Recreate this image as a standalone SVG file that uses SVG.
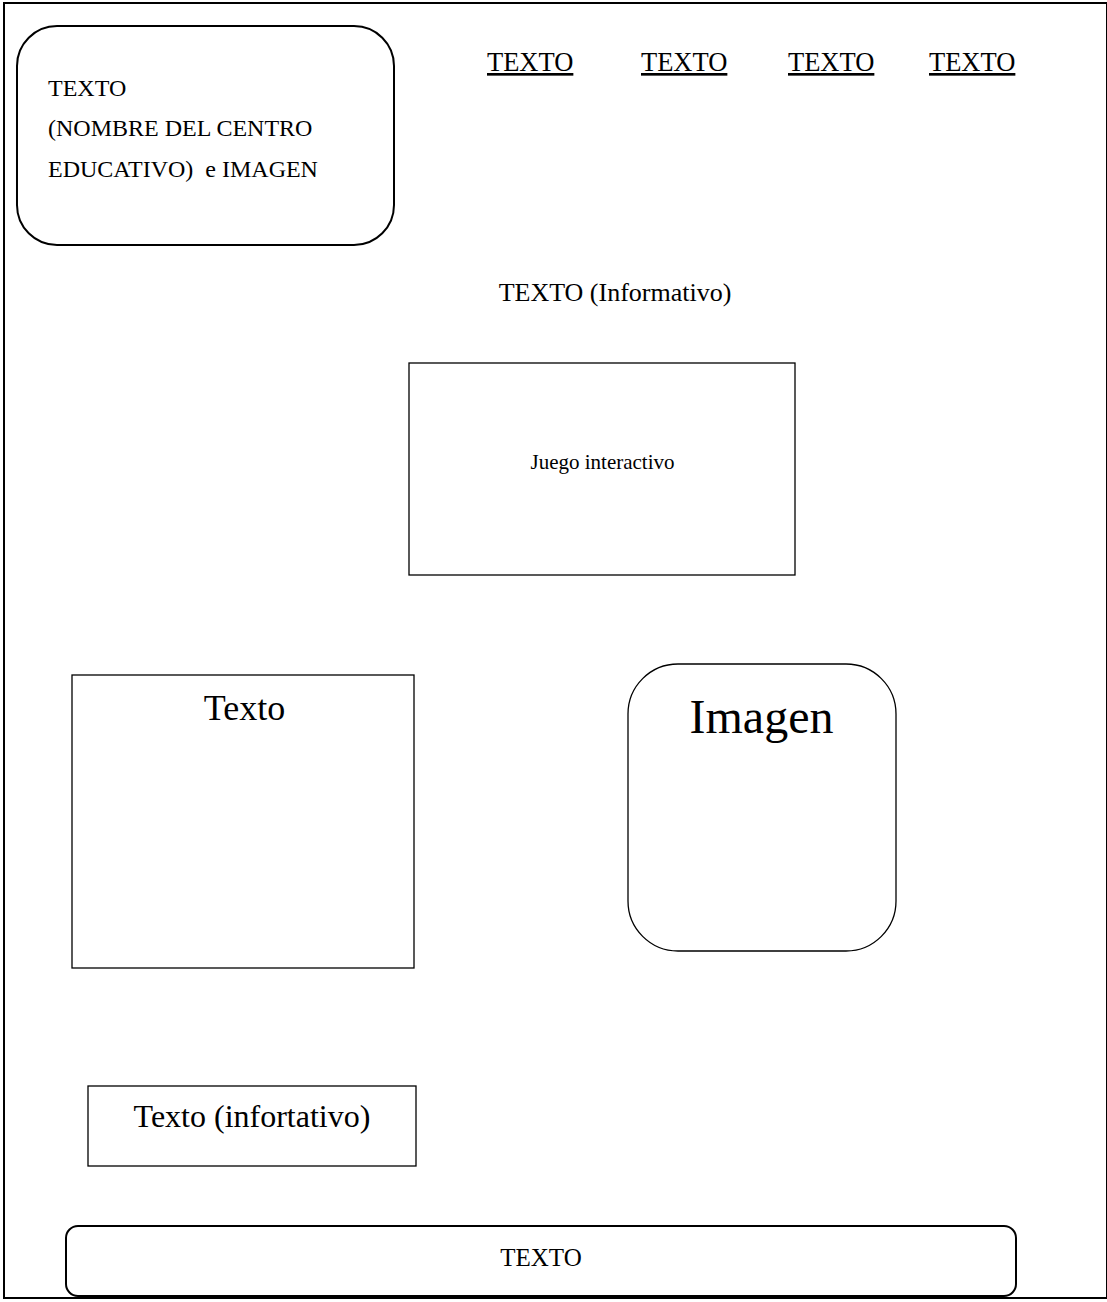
<svg xmlns="http://www.w3.org/2000/svg" width="1107" height="1302" viewBox="0 0 1107 1302">
<style>
text{font-family:"Liberation Serif","Times New Roman",serif;fill:#000}
.box{fill:#fff;stroke:#000;stroke-width:1.3}
.thick{fill:#fff;stroke:#000;stroke-width:2}
.link{text-decoration:underline;font-size:26.5px}
</style>
<rect x="0" y="0" width="1107" height="1302" fill="#fff"/>
<rect id="page" x="4" y="3" width="1103" height="1295" fill="none" stroke="#000" stroke-width="2"/>
<g id="header">
<rect class="thick" x="17" y="26" width="377" height="219" rx="40" ry="40"/>
<text x="48" y="96" font-size="24">TEXTO</text>
<text x="48" y="136" font-size="24">(NOMBRE DEL CENTRO</text>
<text x="48" y="177" font-size="24" xml:space="preserve">EDUCATIVO)  e IMAGEN</text>
</g>
<g id="nav">
<text class="link" x="487" y="71">TEXTO</text>
<text class="link" x="641" y="71">TEXTO</text>
<text class="link" x="788" y="71">TEXTO</text>
<text class="link" x="929" y="71">TEXTO</text>
</g>
<g id="info">
<text x="615" y="301" font-size="26" text-anchor="middle">TEXTO (Informativo)</text>
</g>
<g id="juego">
<rect class="box" x="409" y="363" width="386" height="212"/>
<text x="602.5" y="469" font-size="21" text-anchor="middle">Juego interactivo</text>
</g>
<g id="texto">
<rect class="box" x="72" y="675" width="342" height="293"/>
<text x="244.5" y="720" font-size="36" text-anchor="middle">Texto</text>
</g>
<g id="imagen">
<rect class="box" x="628" y="664" width="268" height="287" rx="50" ry="50"/>
<text x="761.5" y="733" font-size="48" text-anchor="middle">Imagen</text>
</g>
<g id="infortativo">
<rect class="box" x="88" y="1086" width="328" height="80"/>
<text x="252" y="1127" font-size="32" text-anchor="middle">Texto (infortativo)</text>
</g>
<g id="footer">
<rect class="thick" x="66" y="1226" width="950" height="70" rx="12" ry="12"/>
<text x="541" y="1266" font-size="25" text-anchor="middle">TEXTO</text>
</g>
<g id="connectors"></g>
</svg>
